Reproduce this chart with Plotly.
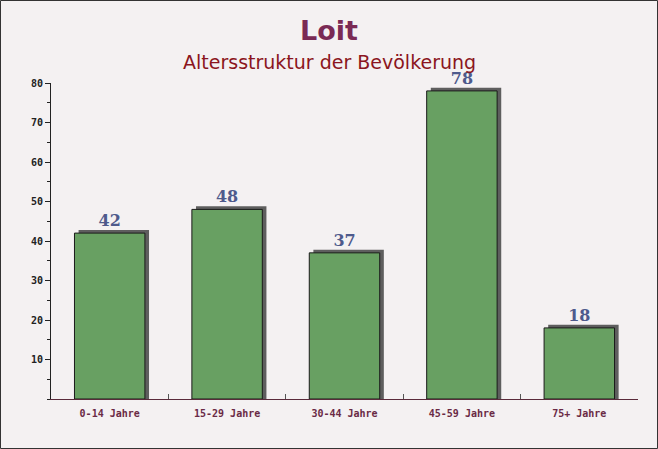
import plotly.graph_objects as go

categories = ["0-14 Jahre", "15-29 Jahre", "30-44 Jahre", "45-59 Jahre", "75+ Jahre"]
values = [42, 48, 37, 78, 18]
y_ticks = [10, 20, 30, 40, 50, 60, 70, 80]

shadow_lift = 0.8
fig = go.Figure()
fig.add_trace(go.Bar(
    x=categories, y=[v + shadow_lift for v in values],
    width=0.6, offset=-0.265,
    marker=dict(color="#5e5e5e", line=dict(width=0)),
    hoverinfo="skip", showlegend=False,
))
fig.add_trace(go.Bar(
    x=categories, y=values,
    width=0.6, offset=-0.3,
    marker=dict(color="#68a062", line=dict(color="#1a1a1a", width=1)),
    text=[str(v) for v in values], textposition="outside",
    textfont=dict(family="DejaVu Serif", size=16, color="#4e5a8c", weight="bold"),
    cliponaxis=False, showlegend=False,
))

fig.update_layout(
    width=658, height=449,
    barmode="overlay",
    paper_bgcolor="#f4f1f2", plot_bgcolor="rgba(0,0,0,0)",
    margin=dict(l=51, r=20, t=83, b=50, autoexpand=False),
    xaxis=dict(
        type="category", showgrid=False, showline=True, linecolor="#5a2a3a", linewidth=1,
        ticks="inside", tickson="boundaries", ticklen=5, tickcolor="#555",
        ticklabelstandoff=5,
        tickfont=dict(family="DejaVu Sans Mono", size=10, color="#6a2a45", weight="bold"),
        range=[-0.5, 4.5],
    ),
    yaxis=dict(
        range=[0, 80], tickvals=y_ticks, showgrid=False, zeroline=False,
        showline=True, linecolor="#222", linewidth=1,
        ticks="outside", ticklen=5, tickcolor="#222",
        tickfont=dict(family="DejaVu Sans Mono", size=10, color="#222", weight="bold"),
        minor=dict(dtick=5, ticks="outside", ticklen=3, tickcolor="#222"),
    ),
    annotations=[
        dict(text="<b>Loit</b>", xref="paper", yref="paper", x=0.5 - 15.5/587, y=1 + 53/316,
             xanchor="center", yanchor="middle", showarrow=False,
             font=dict(family="DejaVu Sans", size=27, color="#7a2a55")),
        dict(text="Altersstruktur der Bevölkerung", xref="paper", yref="paper", x=0.5 - 15.5/587, y=1 + 21/316,
             xanchor="center", yanchor="middle", showarrow=False,
             font=dict(family="DejaVu Sans", size=19, color="#8b1520")),
    ],
)
fig.add_shape(type="rect", xref="paper", yref="paper", x0=-50.5/587, x1=1+19.5/587, y0=-49.5/316, y1=1+82.5/316,
              line=dict(color="#333", width=1), fillcolor="rgba(0,0,0,0)")
fig.write_html("out.html", config={"displayModeBar": False})

with open("out.html", "r", encoding="utf-8") as f:
    html = f.read()
html = html.replace("<head>", "<head><style>html,body{margin:0;padding:0;overflow:hidden;}</style>", 1)
with open("out.html", "w", encoding="utf-8") as f:
    f.write(html)
